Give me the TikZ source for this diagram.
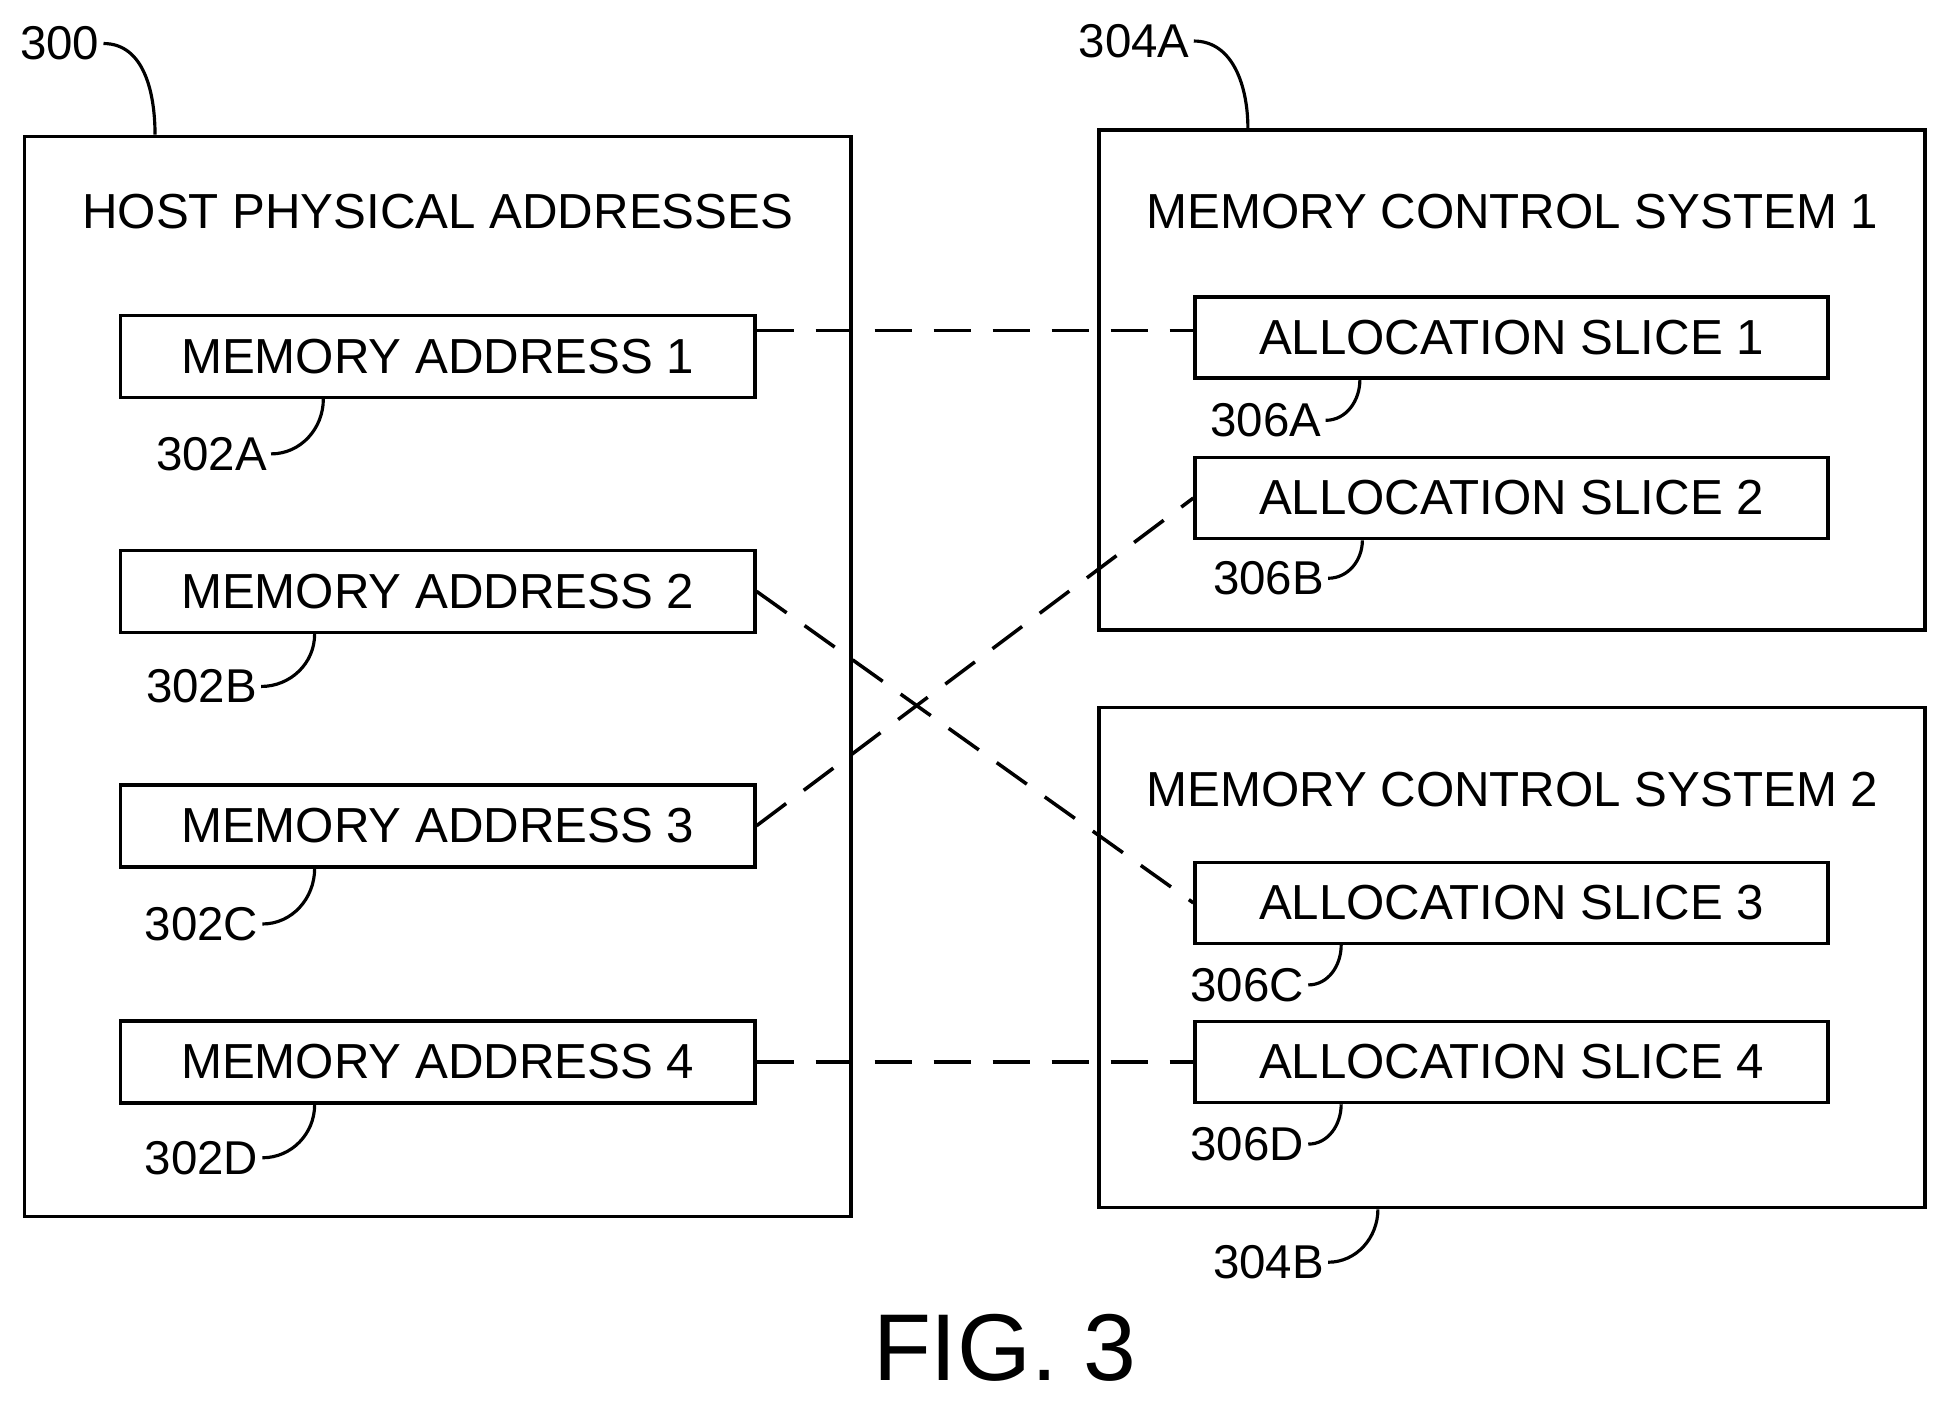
\documentclass[tikz,border=0pt]{standalone}
\usepackage{fontspec}
\setmainfont{Liberation Sans}
\usetikzlibrary{positioning}
\tikzset{
  box/.style={draw,line width=1pt,inner sep=0pt},
  addr/.style={box,minimum width=6.34cm,minimum height=0.82cm,font=\fontsize{14}{16}\selectfont},
  slice/.style={box,minimum width=6.33cm,minimum height=0.81cm,font=\fontsize{14}{16}\selectfont},
  title/.style={font=\fontsize{14}{16}\selectfont},
  ref/.style={font=\fontsize{13.5}{16}\selectfont,inner sep=1pt},
  lead/.style={line width=0.9pt},
  link/.style={line width=1pt,dash pattern=on 0.37cm off 0.22cm}
}
\begin{document}
\begin{tikzpicture}[x=0.012436cm,y=-0.012436cm]
  \useasboundingbox (0,0) rectangle (1560,1129);
  % outer boxes
  \node[box,minimum width=8.26cm,minimum height=10.8cm] (host) at (352,544) {};
  \node[box,minimum width=8.26cm,minimum height=5.0cm] (mcs1) at (1216,305.5) {};
  \node[box,minimum width=8.26cm,minimum height=5.0cm] (mcs2) at (1216,770) {};
  \node[title] (hosttitle) at (352,170) {HOST PHYSICAL ADDRESSES};
  \node[title] (mcs1title) at (1216,170) {MEMORY CONTROL SYSTEM 1};
  \node[title] (mcs2title) at (1216,635) {MEMORY CONTROL SYSTEM 2};
  % addresses and slices
  \node[addr] (ma1) at (352,286.5) {MEMORY ADDRESS 1};
  \node[addr] (ma2) at (352,475.5) {MEMORY ADDRESS 2};
  \node[addr] (ma3) at (352,664) {MEMORY ADDRESS 3};
  \node[addr] (ma4) at (352,854) {MEMORY ADDRESS 4};
  \node[slice] (s1) at (1215.5,271.5) {ALLOCATION SLICE 1};
  \node[slice] (s2) at (1215.5,400.5) {ALLOCATION SLICE 2};
  \node[slice] (s3) at (1215.5,726) {ALLOCATION SLICE 3};
  \node[slice] (s4) at (1215.5,854) {ALLOCATION SLICE 4};
  % mappings
  \draw[link] ([yshift=2pt]s1.west -| ma1.east) -- ([yshift=2pt]s1.west);
  \draw[link] (ma2.east) -- (s3.west);
  \draw[link] (ma3.east) -- (s2.west);
  \draw[link] (ma4.east) -- (s4.west);
  % reference numerals
  \node[ref] (r300) at (48,35) {300};
  \node[ref] (r304a) at (912,33) {304A};
  \node[ref] (r304b) at (1020,1015) {304B};
  \node[ref] (r302a) at (170,365) {302A};
  \node[ref] (r302b) at (162,552) {302B};
  \node[ref] (r302c) at (162,743) {302C};
  \node[ref] (r302d) at (162,931) {302D};
  \node[ref] (r306a) at (1018,338) {306A};
  \node[ref] (r306b) at (1020,465) {306B};
  \node[ref] (r306c) at (1003,792) {306C};
  \node[ref] (r306d) at (1003,920) {306D};
  \draw[lead] (r300.east) to[out=0,in=90] ([xshift=-2.827cm]host.north);
  \draw[lead] (r304a.east) to[out=0,in=90] ([xshift=-2.643cm]mcs1.north);
  \draw[lead] (r304b.east) to[out=0,in=-90] ([xshift=-1.343cm]mcs2.south);
  \draw[lead] (r302a.east) to[out=0,in=-90] ([xshift=-1.144cm]ma1.south);
  \draw[lead] (r302b.east) to[out=0,in=-90] ([xshift=-1.231cm]ma2.south);
  \draw[lead] (r302c.east) to[out=0,in=-90] ([xshift=-1.231cm]ma3.south);
  \draw[lead] (r302d.east) to[out=0,in=-90] ([xshift=-1.231cm]ma4.south);
  \draw[lead] (r306a.east) to[out=0,in=-90] ([xshift=-1.517cm]s1.south);
  \draw[lead] (r306b.east) to[out=0,in=-90] ([xshift=-1.492cm]s2.south);
  \draw[lead] (r306c.east) to[out=0,in=-90] ([xshift=-1.704cm]s3.south);
  \draw[lead] (r306d.east) to[out=0,in=-90] ([xshift=-1.704cm]s4.south);
  \node[font=\fontsize{27}{30}\selectfont] (fig) at (808,1084) {FIG. 3};
\end{tikzpicture}
\end{document}
